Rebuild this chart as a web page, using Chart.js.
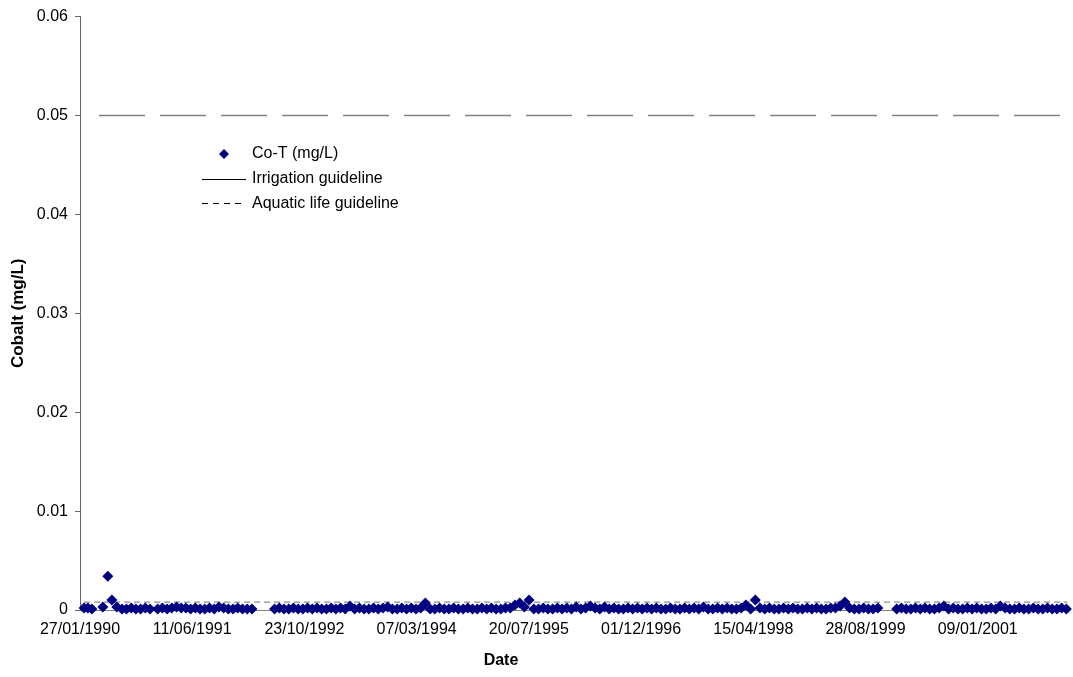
<!DOCTYPE html>
<html>
<head>
<meta charset="utf-8">
<script src="https://cdn.jsdelivr.net/npm/chart.js@4.4.1/dist/chart.umd.min.js"></script>
<style>
  html, body { margin: 0; padding: 0; background: #fff; }
  #wrap { width: 1073px; height: 677px; }
</style>
</head>
<body>
<div id="wrap"><canvas id="chart" width="1073" height="677"></canvas></div>
<script>
// ---------- Data ----------
const xTickLabels = [
  "27/01/1990", "11/06/1991", "23/10/1992", "07/03/1994", "20/07/1995",
  "01/12/1996", "15/04/1998", "28/08/1999", "09/01/2001"
];
const yTickValues = [0, 0.01, 0.02, 0.03, 0.04, 0.05, 0.06];

const irrigationGuideline = 0.05;   // mg/L
const aquaticGuideline = 0.0008;    // mg/L

// sample dates, one line per year
const sampleDates = [
  "1990-02-14","1990-03-03","1990-03-21","1990-05-09","1990-05-31","1990-06-18","1990-07-10","1990-08-02","1990-08-22","1990-09-12","1990-10-03","1990-10-24","1990-11-14","1990-12-05",
  "1991-01-08","1991-01-29","1991-02-19","1991-03-12","1991-04-02","1991-04-23","1991-05-14","1991-06-04","1991-06-25","1991-07-16","1991-08-06","1991-08-27","1991-09-17","1991-10-08","1991-10-29","1991-11-19","1991-12-10","1991-12-31",
  "1992-01-21","1992-02-11","1992-03-03","1992-06-12","1992-07-03","1992-07-24","1992-08-14","1992-09-04","1992-09-25","1992-10-16","1992-11-06","1992-11-27","1992-12-18",
  "1993-01-08","1993-01-29","1993-02-19","1993-03-12","1993-04-02","1993-04-23","1993-05-14","1993-06-04","1993-06-25","1993-07-16","1993-08-06","1993-08-27","1993-09-17","1993-10-08","1993-10-29","1993-11-19","1993-12-10","1993-12-31",
  "1994-01-21","1994-02-11","1994-03-04","1994-03-25","1994-04-15","1994-05-06","1994-05-27","1994-06-17","1994-07-08","1994-07-29","1994-08-19","1994-09-09","1994-09-30","1994-10-21","1994-11-11","1994-12-02","1994-12-23",
  "1995-01-13","1995-02-03","1995-02-24","1995-03-17","1995-04-07","1995-04-28","1995-05-19","1995-06-09","1995-06-30","1995-07-21","1995-08-11","1995-09-01","1995-09-22","1995-10-13","1995-11-03","1995-11-24","1995-12-15",
  "1996-01-05","1996-01-26","1996-02-16","1996-03-08","1996-03-29","1996-04-19","1996-05-10","1996-05-31","1996-06-21","1996-07-12","1996-08-02","1996-08-23","1996-09-13","1996-10-04","1996-10-25","1996-11-15","1996-12-06","1996-12-27",
  "1997-01-17","1997-02-07","1997-02-28","1997-03-21","1997-04-11","1997-05-02","1997-05-23","1997-06-13","1997-07-04","1997-07-25","1997-08-15","1997-09-05","1997-09-26","1997-10-17","1997-11-07","1997-11-28","1997-12-19",
  "1998-01-09","1998-01-30","1998-02-20","1998-03-13","1998-04-03","1998-04-24","1998-05-15","1998-06-05","1998-06-26","1998-07-17","1998-08-07","1998-08-28","1998-09-18","1998-10-09","1998-10-30","1998-11-20","1998-12-11",
  "1999-01-01","1999-01-22","1999-02-12","1999-03-05","1999-03-26","1999-04-16","1999-05-07","1999-05-28","1999-06-18","1999-07-09","1999-07-30","1999-08-20","1999-09-10","1999-10-01","1999-10-22",
  "2000-01-14","2000-02-04","2000-02-25","2000-03-17","2000-04-07","2000-04-28","2000-05-19","2000-06-09","2000-06-30","2000-07-21","2000-08-11","2000-09-01","2000-09-22","2000-10-13","2000-11-03","2000-11-24","2000-12-15",
  "2001-01-05","2001-01-26","2001-02-16","2001-03-09","2001-03-30","2001-04-20","2001-05-11","2001-06-01","2001-06-22","2001-07-13","2001-08-03","2001-08-24","2001-09-14","2001-10-05","2001-10-26","2001-11-16","2001-12-07","2001-12-28",
  "2002-01-18","2002-02-08"
];

// Co-T (mg/L), same order as sampleDates
const cobaltValues = [
  0.0002,0.0002,0.0001,0.0003,0.0034,0.0010,0.0003,0.0001,0.0001,0.0002,0.0001,0.0001,0.0002,0.0001,
  0.0001,0.0002,0.0001,0.0002,0.0003,0.0002,0.0002,0.0001,0.0002,0.0001,0.0001,0.0002,0.0001,0.0003,0.0002,0.0001,0.0001,0.0002,
  0.0001,0.0001,0.0001,0.0001,0.0002,0.0001,0.0001,0.0002,0.0001,0.0001,0.0002,0.0001,0.0002,
  0.0001,0.0001,0.0002,0.0001,0.0002,0.0001,0.0004,0.0001,0.0002,0.0001,0.0001,0.0002,0.0001,0.0002,0.0003,0.0001,0.0001,0.0002,
  0.0001,0.0002,0.0001,0.0002,0.0007,0.0001,0.0001,0.0002,0.0001,0.0001,0.0002,0.0001,0.0001,0.0002,0.0001,0.0001,0.0002,
  0.0001,0.0002,0.0001,0.0001,0.0002,0.0002,0.0005,0.0007,0.0003,0.0010,0.0001,0.0001,0.0002,0.0001,0.0001,0.0002,0.0001,
  0.0002,0.0001,0.0003,0.0001,0.0002,0.0004,0.0002,0.0001,0.0003,0.0001,0.0002,0.0001,0.0001,0.0002,0.0001,0.0002,0.0001,0.0002,
  0.0001,0.0002,0.0001,0.0001,0.0002,0.0001,0.0001,0.0002,0.0001,0.0002,0.0001,0.0003,0.0001,0.0001,0.0002,0.0001,0.0002,
  0.0001,0.0001,0.0002,0.0005,0.0001,0.0010,0.0002,0.0001,0.0002,0.0001,0.0001,0.0002,0.0001,0.0002,0.0001,0.0001,0.0002,
  0.0001,0.0002,0.0001,0.0001,0.0002,0.0002,0.0004,0.0008,0.0002,0.0001,0.0001,0.0002,0.0001,0.0001,0.0002,
  0.0001,0.0002,0.0001,0.0001,0.0002,0.0001,0.0002,0.0001,0.0001,0.0002,0.0004,0.0001,0.0002,0.0001,0.0001,0.0002,0.0001,
  0.0002,0.0001,0.0001,0.0002,0.0001,0.0004,0.0002,0.0001,0.0001,0.0002,0.0001,0.0001,0.0002,0.0001,0.0001,0.0002,0.0001,0.0001,
  0.0002,0.0001
];

// ---------- Helpers ----------
const FONT = 'Arial, "Liberation Sans", sans-serif';
const BASE = Date.UTC(1990, 0, 27);   // axis origin = 27/01/1990
const AXIS_END = 4400;                // days after origin

function dayFromISO(s) {
  const [y, m, d] = s.split("-").map(Number);
  return (Date.UTC(y, m - 1, d) - BASE) / 86400000;
}

function dayFromDMY(s) {
  const [d, m, y] = s.split("/").map(Number);
  return (Date.UTC(y, m - 1, d) - BASE) / 86400000;
}

function fmtDMY(day) {
  const dt = new Date(BASE + Math.round(day) * 86400000);
  const dd = String(dt.getUTCDate()).padStart(2, "0");
  const mm = String(dt.getUTCMonth() + 1).padStart(2, "0");
  return `${dd}/${mm}/${dt.getUTCFullYear()}`;
}

const points = sampleDates.map((s, i) => ({ x: dayFromISO(s), y: cobaltValues[i] }));
const firstDay = dayFromISO(sampleDates[0]);

// ---------- Legend + x title (placed like the original) ----------
const manualLegend = {
  id: "manualLegend",
  afterDraw(chart) {
    const ctx = chart.ctx;
    ctx.save();
    ctx.font = `16px ${FONT}`;
    ctx.textBaseline = "middle";
    ctx.textAlign = "left";

    // diamond
    ctx.fillStyle = "#000080";
    ctx.beginPath();
    ctx.moveTo(224, 149); ctx.lineTo(229, 154); ctx.lineTo(224, 159); ctx.lineTo(219, 154);
    ctx.closePath();
    ctx.fill();

    ctx.fillStyle = "#000";
    ctx.fillText("Co-T (mg/L)", 252, 154);

    ctx.strokeStyle = "#000";
    ctx.lineWidth = 1;
    ctx.beginPath();
    ctx.moveTo(202, 179.5); ctx.lineTo(246, 179.5);
    ctx.stroke();
    ctx.fillText("Irrigation guideline", 252, 179);

    ctx.setLineDash([6, 5]);
    ctx.beginPath();
    ctx.moveTo(202, 203.5); ctx.lineTo(246, 203.5);
    ctx.stroke();
    ctx.setLineDash([]);
    ctx.fillText("Aquatic life guideline", 252, 204);

    // x axis title sits left of the plot centre in the original
    ctx.font = `bold 16px ${FONT}`;
    ctx.textAlign = "center";
    ctx.fillText("Date", 501, 661);
    ctx.restore();
  }
};

// ---------- Chart ----------
new Chart(document.getElementById("chart"), {
  type: "scatter",
  data: {
    datasets: [
      {
        label: "Co-T (mg/L)",
        data: points,
        showLine: false,
        pointStyle: "rectRot",
        pointRadius: 5.5,
        borderWidth: 0,
        backgroundColor: "#000080",
        borderColor: "#000080",
        clip: false,
      },
      {
        label: "Irrigation guideline",
        data: [{ x: firstDay, y: irrigationGuideline }, { x: AXIS_END, y: irrigationGuideline }],
        showLine: true,
        pointRadius: 0,
        borderColor: "#808080",
        borderWidth: 1.5,
        borderDash: [46, 15],
        borderDashOffset: 46,
      },
      {
        label: "Aquatic life guideline",
        data: [{ x: firstDay, y: aquaticGuideline }, { x: AXIS_END, y: aquaticGuideline }],
        showLine: true,
        pointRadius: 0,
        borderColor: "#707070",
        borderWidth: 1,
        borderDash: [6, 4],
      },
    ],
  },
  options: {
    responsive: false,
    animation: false,
    events: [],
    layout: { padding: { top: 14, right: 0, left: 0, bottom: 0 } },
    plugins: { legend: { display: false }, tooltip: { enabled: false } },
    scales: {
      x: {
        type: "linear",
        min: 0,
        max: AXIS_END,
        afterFit: (s) => { s.height = 67; },
        afterBuildTicks: (s) => { s.ticks = xTickLabels.map((t) => ({ value: dayFromDMY(t) })); },
        grid: { display: false, drawTicks: false },
        border: { color: "#808080", width: 1 },
        ticks: {
          autoSkip: false, maxRotation: 0, color: "#000", padding: 10,
          font: { family: FONT, size: 16 },
          callback: (v) => fmtDMY(v),
        },
        title: { display: false },
      },
      y: {
        min: 0,
        max: 0.06,
        afterFit: (s) => { s.width = 80; },
        afterBuildTicks: (s) => { s.ticks = yTickValues.map((v) => ({ value: v })); },
        grid: { drawOnChartArea: false, drawTicks: true, tickLength: 5, color: "#666" },
        border: { color: "#666", width: 1 },
        ticks: {
          color: "#000", padding: 7,
          font: { family: FONT, size: 16 },
          callback: (v) => (v === 0 ? "0" : v.toFixed(2)),
        },
        title: {
          display: true, text: "Cobalt (mg/L)", color: "#000",
          font: { family: FONT, size: 17, weight: "bold" },
          padding: { top: 8, bottom: 0 },
        },
      },
    },
  },
  plugins: [manualLegend],
});
</script>
</body>
</html>
